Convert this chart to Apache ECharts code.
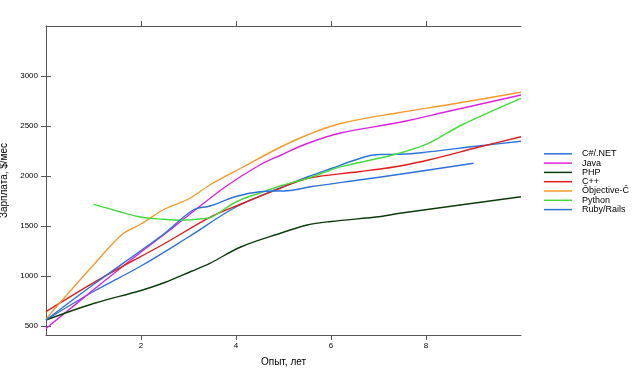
<!DOCTYPE html>
<html>
<head>
<meta charset="utf-8">
<script src="https://cdn.jsdelivr.net/npm/echarts@6/dist/echarts.min.js"></script>
<style>html,body{margin:0;padding:0;background:#fff;}#c{width:640px;height:375px;}</style>
</head>
<body>
<div id="c"></div>
<script>
const seriesNames = ["C#/.NET", "Java", "PHP", "C++", "Ôbjective-Č", "Python", "Ruby/Rails"];
const xTicks = [2, 4, 6, 8];
const yTicks = [500, 1000, 1500, 2000, 2500, 3000];

const csharp = [[0,560],[1,845],[2,1100],[3,1390],[4,1690],[5,1895],[5.5,1990],[6,2075],[6.7,2190],[7,2215],[7.45,2218],[7.9,2233],[9.1,2300],[10,2348]];
const java = [[0,475],[1,862],[2,1240],[2.5,1420],[3.1,1645],[3.8,1900],[4.5,2110],[4.95,2210],[5.5,2325],[6.2,2430],[7.45,2537],[8.5,2650],[10,2810]];
const php = [[0,560],[1,725],[2,855],[2.5,935],[3.05,1045],[3.45,1127],[4.1,1290],[4.95,1430],[5.5,1510],[6,1545],[7.05,1595],[7.45,1627],[10,1793]];
const cpp = [[0,643],[1.22,993],[2.48,1320],[3.45,1587],[4.08,1715],[4.93,1877],[5.52,1977],[6.58,2043],[7.14,2077],[7.45,2100],[8.05,2160],[9.1,2287],[10,2393]];
const objc = [[0,570],[0.4,790],[1.0,1110],[1.6,1415],[2.0,1520],[2.5,1670],[3.0,1770],[3.45,1910],[4.15,2090],[4.9,2280],[5.5,2410],[6.2,2525],[7.45,2635],[8.5,2715],[10,2838]];
const python = [[1.0,1717],[1.5,1650],[1.95,1593],[2.48,1567],[2.85,1558],[3.3,1572],[3.5,1592],[4.0,1740],[4.5,1830],[5.0,1910],[5.5,1975],[6.22,2093],[7.3,2210],[8.05,2327],[8.75,2510],[10,2777]];
const ruby = [[0,560],[1,915],[2,1255],[2.48,1420],[3.1,1660],[3.45,1700],[4.0,1795],[4.5,1843],[5.14,1855],[5.56,1892],[6.58,1960],[7.45,2017],[9.0,2127]];

const seriesData = [csharp, java, php, cpp, objc, python, ruby];
const colors = ["#2a72dc", "#e020e0", "#0b3d0b", "#e41a1a", "#f59a28", "#44dc3a", "#2a72dc"];

const chart = echarts.init(document.getElementById('c'), null, {renderer: 'canvas'});
const axisLineStyle = {color: '#555', width: 1};
const fontFam = 'Liberation Sans, Arial, sans-serif';
const plain = v => String(v);

chart.setOption({
  animation: false,
  backgroundColor: '#fff',
  color: colors,
  textStyle: {fontFamily: fontFam},
  grid: {left: 46, right: 119, top: 26, bottom: 40, containLabel: false, outerBoundsMode: 'none'},
  legend: {
    orient: 'vertical',
    left: 544,
    top: 149.3,
    padding: 0,
    itemWidth: 28,
    itemHeight: 1.5,
    itemGap: 0.3,
    icon: 'rect',
    data: seriesNames,
    textStyle: {fontSize: 9, color: '#000', lineHeight: 8, padding: [0, 0, 0, 5], fontFamily: fontFam}
  },
  xAxis: [{
    type: 'value', min: 0, max: 10, position: 'bottom',
    name: 'Опыт, лет', nameLocation: 'middle', nameGap: 22,
    nameTextStyle: {fontSize: 10, color: '#000', fontFamily: fontFam},
    axisLine: {show: true, lineStyle: axisLineStyle},
    axisTick: {show: true, length: 5, lineStyle: axisLineStyle, customValues: xTicks},
    axisLabel: {show: true, fontSize: 8, color: '#000', margin: 7, customValues: xTicks, formatter: plain},
    splitLine: {show: false}
  }, {
    type: 'value', min: 0, max: 10, position: 'top',
    axisLine: {show: true, lineStyle: axisLineStyle},
    axisTick: {show: true, length: 5, lineStyle: axisLineStyle, customValues: xTicks},
    axisLabel: {show: false},
    splitLine: {show: false}
  }],
  yAxis: [{
    type: 'value', min: 410, max: 3500, position: 'left',
    name: 'Зарплата, $/мес', nameLocation: 'middle', nameGap: 27, nameRotate: 90,
    nameTextStyle: {fontSize: 10, color: '#000', fontFamily: fontFam},
    axisLine: {show: true, lineStyle: axisLineStyle},
    axisTick: {show: true, length: 5, lineStyle: axisLineStyle, customValues: yTicks},
    axisLabel: {show: true, fontSize: 8, color: '#000', margin: 8, customValues: yTicks, formatter: plain},
    splitLine: {show: false}
  }, {
    type: 'value', min: 410, max: 3500, position: 'right',
    axisLine: {show: true, lineStyle: axisLineStyle},
    axisTick: {show: true, length: 5, lineStyle: axisLineStyle, customValues: yTicks},
    axisLabel: {show: false},
    splitLine: {show: false}
  }],
  series: seriesNames.map((n, i) => ({
    name: n,
    type: 'line',
    data: seriesData[i],
    smooth: 0.35,
    symbol: 'none',
    lineStyle: {width: 1.4, color: colors[i]},
    itemStyle: {color: colors[i]},
    xAxisIndex: 0,
    yAxisIndex: 0
  }))
});
</script>
</body>
</html>
